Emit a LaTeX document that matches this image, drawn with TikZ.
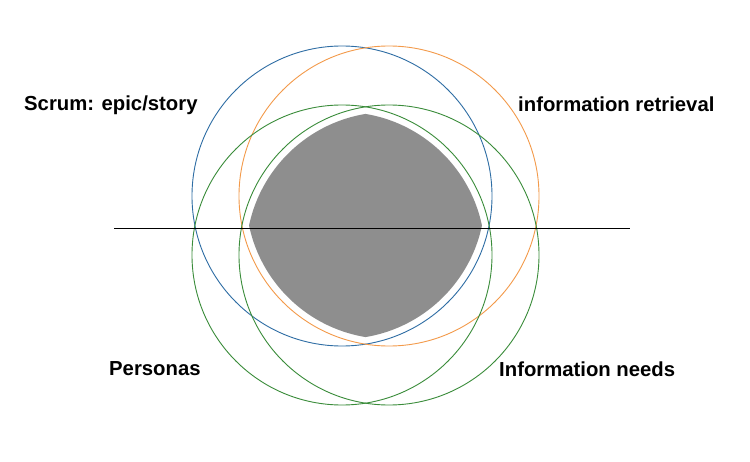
\documentclass[tikz,border=0pt]{standalone}
\usepackage{fontspec}
\setmainfont{Liberation Sans}
\begin{document}
\begin{tikzpicture}[x=1pt,y=-1pt,
  lbl/.style={font=\bfseries\fontsize{20.3}{23}\selectfont, anchor=west, inner sep=0},
  circ/.style={line width=0.9pt}]
\useasboundingbox[fill=white] (0,0) rectangle (750,462);
\definecolor{cb}{HTML}{2E6DA4}
\definecolor{co}{HTML}{F39A4A}
\definecolor{cg}{HTML}{3A8C3A}
\definecolor{gr}{HTML}{8E8E8E}
\begin{scope}
\clip (342,196) circle (143);
\clip (389,196) circle (143);
\clip (342,255) circle (143);
\clip (389,255) circle (143);
\fill[gr] (100,0) rectangle (700,462);
\end{scope}
\draw[circ,cb] (342,196) circle (150);
\draw[circ,co] (389,196) circle (150);
\draw[circ,cg] (342,255) circle (150);
\draw[circ,cg] (389,255) circle (150);
\coordinate (l) at (114,228); \coordinate (r) at (630,228);
\draw[line width=0.9pt] (l) -- (r);
\node[lbl] (a) at (24,105) {Scrum: epic/story};
\node[lbl] (b) at (518,104) {information retrieval};
\node[lbl] (c) at (109,369) {Personas};
\node[lbl] (d) at (499,369) {Information needs};
\end{tikzpicture}
\end{document}
